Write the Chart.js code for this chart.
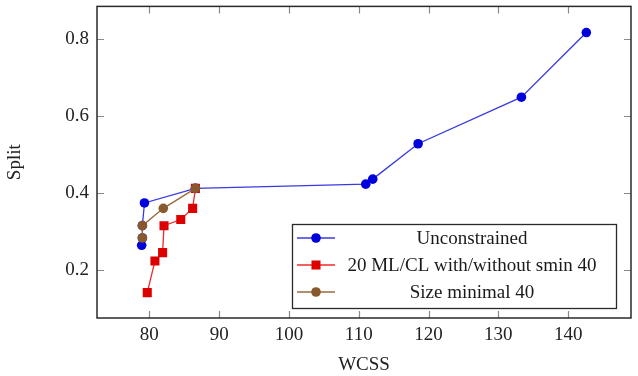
<!DOCTYPE html>
<html>
<head>
<meta charset="utf-8">
<script src="https://cdn.jsdelivr.net/npm/chart.js@4.4.1/dist/chart.umd.min.js"></script>
<style>
  html, body { margin: 0; padding: 0; background: #fff; }
  #wrap { width: 638px; height: 376px; }
</style>
</head>
<body>
<div id="wrap"><canvas id="chart"></canvas></div>
<script>
// series values
const unconstrainedX = [78.9, 79.0, 79.0, 79.3, 86.6, 111.0, 112.0, 118.5, 133.3, 142.6];
const unconstrainedY = [0.264, 0.283, 0.315, 0.374, 0.412, 0.423, 0.436, 0.528, 0.649, 0.817];
const mlclX = [79.7, 80.8, 81.9, 82.1, 84.5, 86.2, 86.6];
const mlclY = [0.141, 0.223, 0.245, 0.315, 0.331, 0.360, 0.412];
const sizeMinX = [79.0, 79.0, 82.0, 86.6];
const sizeMinY = [0.283, 0.315, 0.360, 0.412];

const seriesLabels = ['Unconstrained', '20 ML/CL with/without smin 40', 'Size minimal 40'];
const xTicks = [80, 90, 100, 110, 120, 130, 140];
const yTicks = [0.2, 0.4, 0.6, 0.8];

const FONT = "'Liberation Serif', 'Times New Roman', serif";
const pts = (xs, ys) => xs.map((x, i) => ({ x, y: ys[i] }));

// pgfplots style frame with inward ticks on all sides
const framePlugin = {
    id: 'frame',
    afterDraw(chart) {
        const { ctx, chartArea: a, scales } = chart;
        ctx.save();
        ctx.strokeStyle = '#8a8a8a';
        ctx.lineWidth = 1.2;
        const tl = 7;
        scales.x.ticks.forEach(t => {
            const px = Math.round(scales.x.getPixelForValue(t.value)) + 0.5;
            ctx.beginPath();
            ctx.moveTo(px, a.bottom); ctx.lineTo(px, a.bottom - tl);
            ctx.moveTo(px, a.top); ctx.lineTo(px, a.top + tl);
            ctx.stroke();
        });
        scales.y.ticks.forEach(t => {
            const py = Math.round(scales.y.getPixelForValue(t.value)) + 0.5;
            ctx.beginPath();
            ctx.moveTo(a.left, py); ctx.lineTo(a.left + tl, py);
            ctx.moveTo(a.right, py); ctx.lineTo(a.right - tl, py);
            ctx.stroke();
        });
        ctx.strokeStyle = '#2a2a2a';
        ctx.lineWidth = 1.5;
        ctx.strokeRect(a.left, a.top, a.right - a.left, a.bottom - a.top);
        ctx.restore();
    }
};

// boxed legend inside the plot, lower right
const legendPlugin = {
    id: 'boxLegend',
    afterDraw(chart) {
        const { ctx } = chart;
        const box = { l: 292, t: 224, r: 616, b: 308 };
        ctx.save();
        ctx.fillStyle = '#fff';
        ctx.fillRect(box.l, box.t, box.r - box.l, box.b - box.t);
        ctx.strokeStyle = '#2a2a2a';
        ctx.lineWidth = 1.3;
        ctx.strokeRect(box.l + 0.5, box.t + 0.5, box.r - box.l, box.b - box.t);
        [0, 1, 2].forEach((di, row) => {
            const ds = chart.data.datasets[di];
            const cy = 238 + row * 27;
            ctx.strokeStyle = ds.borderColor;
            ctx.lineWidth = 1.3;
            ctx.beginPath();
            ctx.moveTo(297, cy); ctx.lineTo(335, cy);
            ctx.stroke();
            ctx.fillStyle = ds.pointBackgroundColor;
            ctx.beginPath();
            if (ds.pointStyle === 'rect') {
                const s = ds.pointRadius * Math.SQRT1_2;
                ctx.rect(316 - s, cy - s, 2 * s, 2 * s);
            } else {
                ctx.arc(316, cy, ds.pointRadius, 0, Math.PI * 2);
            }
            ctx.fill();
            ctx.fillStyle = '#1a1a1a';
            ctx.font = '19px ' + FONT;
            ctx.textAlign = 'center';
            ctx.textBaseline = 'middle';
            ctx.fillText(ds.label, 472, cy + 1);
        });
        ctx.restore();
    }
};

new Chart(document.getElementById('chart'), {
    type: 'scatter',
    data: {
        datasets: [
            {
                label: seriesLabels[0],
                data: pts(unconstrainedX, unconstrainedY),
                showLine: true,
                borderColor: '#3a3ae0',
                borderWidth: 1.3,
                pointStyle: 'circle',
                pointRadius: 4.8,
                pointBackgroundColor: '#0000dd',
                pointBorderWidth: 0,
                order: 2
            },
            {
                label: seriesLabels[1],
                data: pts(mlclX, mlclY),
                showLine: true,
                borderColor: '#ee2a2a',
                borderWidth: 1.3,
                pointStyle: 'rect',
                pointRadius: 6.4,
                pointBackgroundColor: '#dd0000',
                pointBorderWidth: 0,
                order: 1
            },
            {
                label: seriesLabels[2],
                data: pts(sizeMinX, sizeMinY),
                showLine: true,
                borderColor: '#9a6a3c',
                borderWidth: 1.3,
                pointStyle: 'circle',
                pointRadius: 4.8,
                pointBackgroundColor: '#87592d',
                pointBorderWidth: 0,
                order: 0
            }
        ]
    },
    options: {
        responsive: true,
        maintainAspectRatio: false,
        animation: false,
        layout: { padding: { top: 5, right: 7, left: 0, bottom: 0 } },
        plugins: { legend: { display: false }, tooltip: { enabled: false } },
        scales: {
            x: {
                type: 'linear',
                min: 72.5,
                max: 149,
                afterFit: s => { s.height = 58; s.paddingLeft = 0; s.paddingRight = 0; },
                afterBuildTicks: s => { s.ticks = xTicks.map(v => ({ value: v })); },
                grid: { display: false, drawTicks: false },
                border: { display: false },
                ticks: {
                    padding: 6,
                    color: '#222',
                    font: { family: FONT, size: 19 },
                    callback: v => String(v)
                },
                title: {
                    display: true,
                    text: 'WCSS',
                    color: '#222',
                    font: { family: FONT, size: 19 },
                    padding: { top: 0, bottom: 0 }
                }
            },
            y: {
                type: 'linear',
                min: 0.075,
                max: 0.885,
                afterFit: s => { s.width = 97; s.paddingTop = 0; s.paddingBottom = 0; },
                afterBuildTicks: s => { s.ticks = yTicks.map(v => ({ value: v })); },
                grid: { display: false, drawTicks: false },
                border: { display: false },
                ticks: {
                    padding: 8,
                    color: '#222',
                    font: { family: FONT, size: 19 },
                    callback: v => v.toFixed(1)
                },
                title: {
                    display: true,
                    text: 'Split',
                    color: '#222',
                    font: { family: FONT, size: 19 },
                    padding: { top: 4, bottom: 0 }
                }
            }
        }
    },
    plugins: [framePlugin, legendPlugin]
});
</script>
</body>
</html>
